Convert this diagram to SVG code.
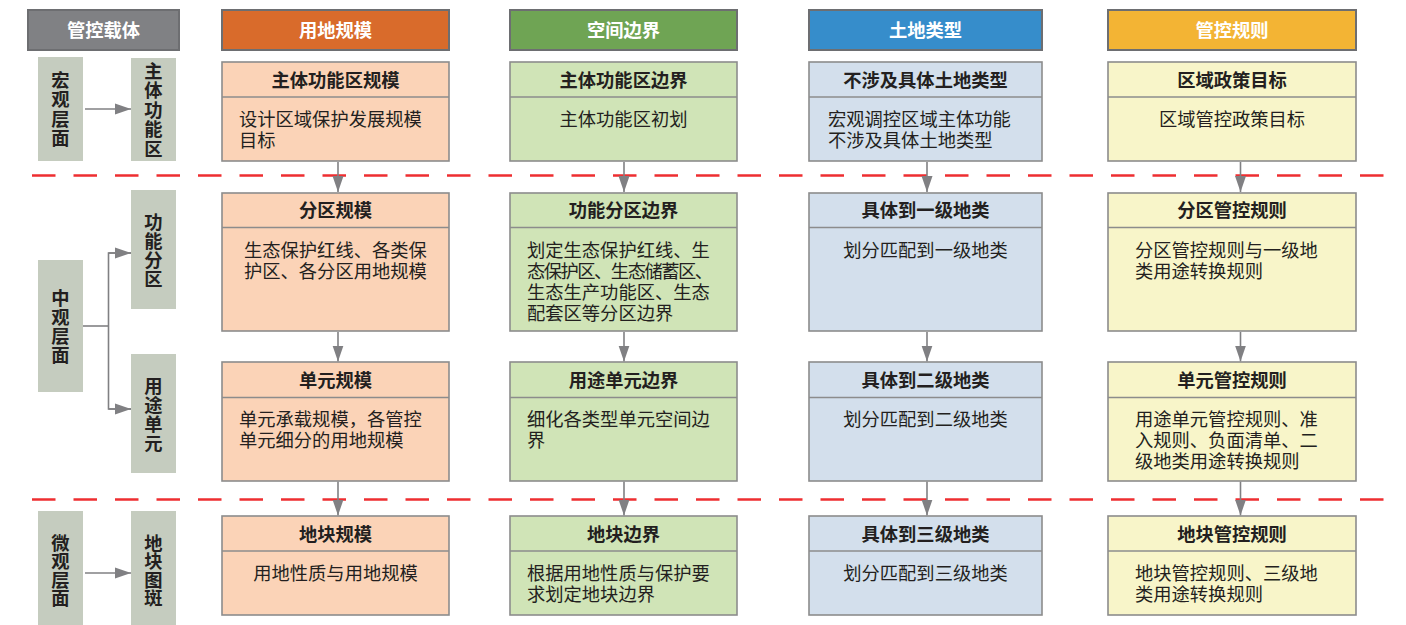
<svg xmlns="http://www.w3.org/2000/svg" width="1406" height="625" viewBox="0 0 1406 625">
<style>
text{font-family:"Noto Sans CJK SC","Noto Sans",sans-serif;fill:#231f20;font-size:18.3px}
.hd{stroke:#6d6e71;stroke-width:2}
.ht{fill:#ffffff;font-weight:bold;text-anchor:middle}
.bx{stroke:#8c8c8c;stroke-width:1.6}
.dv{stroke:#8c8c8c;stroke-width:1.6}
.tt{font-weight:bold;text-anchor:middle}
.mid{text-anchor:middle}
.lb{fill:#c5ccbf}
.lt{font-weight:bold;text-anchor:middle}
.c1{fill:#fbd3b7}.c2{fill:#d0e4b7}.c3{fill:#d3dfec}.c4{fill:#f8f5c9}
.cn{stroke:#808083;stroke-width:1.6;fill:none}
.rd{stroke:#ee2e31;stroke-width:2.6;stroke-dasharray:23.5 18}
</style>
<defs>
<marker id="ah" markerUnits="userSpaceOnUse" markerWidth="16" markerHeight="12" refX="16" refY="6" orient="auto">
<path d="M0,0.5 L16,6 L0,11.5 z" fill="#808083"/>
</marker>
</defs>

<g id="headers">
<g id="h0"><rect class="hd" x="28" y="10" width="151" height="40" fill="#808184"/><text class="ht" x="103.5" y="37">管控载体</text></g>
<g id="h1"><rect class="hd" x="222" y="10" width="227" height="40" fill="#d96b2b"/><text class="ht" x="335.5" y="37">用地规模</text></g>
<g id="h2"><rect class="hd" x="510" y="10" width="227" height="40" fill="#6fa454"/><text class="ht" x="623.5" y="37">空间边界</text></g>
<g id="h3"><rect class="hd" x="809" y="10" width="233" height="40" fill="#368dcb"/><text class="ht" x="925.5" y="37">土地类型</text></g>
<g id="h4"><rect class="hd" x="1108" y="10" width="248" height="40" fill="#f3b434"/><text class="ht" x="1232" y="37">管控规则</text></g>
</g>

<g id="dashes">
<line class="rd" x1="32" y1="175.5" x2="1386" y2="175.5"/>
<line class="rd" x1="32" y1="499.5" x2="1386" y2="499.5"/>
</g>

<g id="labels">
<g id="l-macro"><rect class="lb" x="38" y="57" width="45" height="104"/>
<text class="lt"><tspan x="60.5" y="86.5">宏</tspan><tspan x="60.5" y="106">观</tspan><tspan x="60.5" y="125.5">层</tspan><tspan x="60.5" y="145">面</tspan></text></g>
<g id="l-main"><rect class="lb" x="131" y="58" width="45" height="103"/>
<text class="lt"><tspan x="153.5" y="77.5">主</tspan><tspan x="153.5" y="97">体</tspan><tspan x="153.5" y="116.5">功</tspan><tspan x="153.5" y="136">能</tspan><tspan x="153.5" y="155.5">区</tspan></text></g>
<g id="l-meso"><rect class="lb" x="38" y="260" width="45" height="132"/>
<text class="lt"><tspan x="60.5" y="304.5">中</tspan><tspan x="60.5" y="323.5">观</tspan><tspan x="60.5" y="342.5">层</tspan><tspan x="60.5" y="361.5">面</tspan></text></g>
<g id="l-func"><rect class="lb" x="131" y="190" width="45" height="119"/>
<text class="lt"><tspan x="153.5" y="229">功</tspan><tspan x="153.5" y="248">能</tspan><tspan x="153.5" y="267">分</tspan><tspan x="153.5" y="286">区</tspan></text></g>
<g id="l-use"><rect class="lb" x="131" y="354" width="45" height="119"/>
<text class="lt"><tspan x="153.5" y="392.5">用</tspan><tspan x="153.5" y="411.5">途</tspan><tspan x="153.5" y="430.5">单</tspan><tspan x="153.5" y="449.5">元</tspan></text></g>
<g id="l-micro"><rect class="lb" x="38" y="511" width="45" height="114"/>
<text class="lt"><tspan x="60.5" y="549.5">微</tspan><tspan x="60.5" y="568">观</tspan><tspan x="60.5" y="586.5">层</tspan><tspan x="60.5" y="605">面</tspan></text></g>
<g id="l-plot"><rect class="lb" x="131" y="511" width="45" height="114"/>
<text class="lt"><tspan x="153.5" y="549.5">地</tspan><tspan x="153.5" y="568">块</tspan><tspan x="153.5" y="586.5">图</tspan><tspan x="153.5" y="605">斑</tspan></text></g>
</g>

<g id="connectors">
<line class="cn" x1="85" y1="109" x2="131" y2="109" marker-end="url(#ah)"/>
<polyline class="cn" points="83,326 108.5,326"/>
<polyline class="cn" points="131,253 108.5,253 108.5,409 131,409"/>
<line class="cn" x1="108.5" y1="253" x2="131" y2="253" marker-end="url(#ah)"/>
<line class="cn" x1="108.5" y1="409" x2="131" y2="409" marker-end="url(#ah)"/>
<line class="cn" x1="85" y1="573" x2="131" y2="573" marker-end="url(#ah)"/>

<line class="cn" x1="338" y1="162" x2="338" y2="192" marker-end="url(#ah)"/>
<line class="cn" x1="338" y1="332" x2="338" y2="361.5" marker-end="url(#ah)"/>
<line class="cn" x1="338" y1="481.5" x2="338" y2="515.5" marker-end="url(#ah)"/>
<line class="cn" x1="624" y1="162" x2="624" y2="192" marker-end="url(#ah)"/>
<line class="cn" x1="624" y1="332" x2="624" y2="361.5" marker-end="url(#ah)"/>
<line class="cn" x1="624" y1="481.5" x2="624" y2="515.5" marker-end="url(#ah)"/>
<line class="cn" x1="927" y1="162" x2="927" y2="192" marker-end="url(#ah)"/>
<line class="cn" x1="927" y1="332" x2="927" y2="361.5" marker-end="url(#ah)"/>
<line class="cn" x1="927" y1="481.5" x2="927" y2="515.5" marker-end="url(#ah)"/>
<line class="cn" x1="1240.5" y1="162" x2="1240.5" y2="192" marker-end="url(#ah)"/>
<line class="cn" x1="1240.5" y1="332" x2="1240.5" y2="361.5" marker-end="url(#ah)"/>
<line class="cn" x1="1240.5" y1="481.5" x2="1240.5" y2="515.5" marker-end="url(#ah)"/>
</g>

<!-- Column 1 -->
<g id="n11"><rect class="bx c1" x="222" y="62" width="227" height="99"/><line class="dv" x1="222" y1="97" x2="449" y2="97"/>
<text class="tt" x="335.5" y="86.5">主体功能区规模</text>
<text x="239" y="125.5">设计区域保护发展规模</text><text x="239" y="146.5">目标</text></g>
<g id="n12"><rect class="bx c1" x="222" y="193" width="227" height="138"/><line class="dv" x1="222" y1="227.5" x2="449" y2="227.5"/>
<text class="tt" x="335.5" y="216.5">分区规模</text>
<text x="244" y="256.5">生态保护红线、各类保</text><text x="244" y="277.5">护区、各分区用地规模</text></g>
<g id="n13"><rect class="bx c1" x="222" y="362" width="227" height="119"/><line class="dv" x1="222" y1="397.5" x2="449" y2="397.5"/>
<text class="tt" x="335.5" y="386.5">单元规模</text>
<text x="239" y="425.5">单元承载规模，各管控</text><text x="239" y="446.5">单元细分的用地规模</text></g>
<g id="n14"><rect class="bx c1" x="222" y="516" width="227" height="99"/><line class="dv" x1="222" y1="551" x2="449" y2="551"/>
<text class="tt" x="335.5" y="540.5">地块规模</text>
<text class="mid" x="335.5" y="579.5">用地性质与用地规模</text></g>

<!-- Column 2 -->
<g id="n21"><rect class="bx c2" x="510" y="62" width="227" height="99"/><line class="dv" x1="510" y1="97" x2="737" y2="97"/>
<text class="tt" x="623.5" y="86.5">主体功能区边界</text>
<text class="mid" x="623.5" y="125.5">主体功能区初划</text></g>
<g id="n22"><rect class="bx c2" x="510" y="193" width="227" height="138"/><line class="dv" x1="510" y1="227.5" x2="737" y2="227.5"/>
<text class="tt" x="623.5" y="216.5">功能分区边界</text>
<text x="527" y="256.5">划定生态保护红线、生</text><text x="527" y="277.5" textLength="186" lengthAdjust="spacing">态保护区、生态储蓄区、</text><text x="527" y="298.5">生态生产功能区、生态</text><text x="527" y="319.5">配套区等分区边界</text></g>
<g id="n23"><rect class="bx c2" x="510" y="362" width="227" height="119"/><line class="dv" x1="510" y1="397.5" x2="737" y2="397.5"/>
<text class="tt" x="623.5" y="386.5">用途单元边界</text>
<text x="527" y="425.5">细化各类型单元空间边</text><text x="527" y="446.5">界</text></g>
<g id="n24"><rect class="bx c2" x="510" y="516" width="227" height="99"/><line class="dv" x1="510" y1="551" x2="737" y2="551"/>
<text class="tt" x="623.5" y="540.5">地块边界</text>
<text x="527" y="579.5">根据用地性质与保护要</text><text x="527" y="600.5">求划定地块边界</text></g>

<!-- Column 3 -->
<g id="n31"><rect class="bx c3" x="809" y="62" width="233" height="99"/><line class="dv" x1="809" y1="97" x2="1042" y2="97"/>
<text class="tt" x="925.5" y="86.5">不涉及具体土地类型</text>
<text x="828" y="125.5">宏观调控区域主体功能</text><text x="828" y="146.5">不涉及具体土地类型</text></g>
<g id="n32"><rect class="bx c3" x="809" y="193" width="233" height="138"/><line class="dv" x1="809" y1="227.5" x2="1042" y2="227.5"/>
<text class="tt" x="925.5" y="216.5">具体到一级地类</text>
<text class="mid" x="925.5" y="256.5">划分匹配到一级地类</text></g>
<g id="n33"><rect class="bx c3" x="809" y="362" width="233" height="119"/><line class="dv" x1="809" y1="397.5" x2="1042" y2="397.5"/>
<text class="tt" x="925.5" y="386.5">具体到二级地类</text>
<text class="mid" x="925.5" y="425.5">划分匹配到二级地类</text></g>
<g id="n34"><rect class="bx c3" x="809" y="516" width="233" height="99"/><line class="dv" x1="809" y1="551" x2="1042" y2="551"/>
<text class="tt" x="925.5" y="540.5">具体到三级地类</text>
<text class="mid" x="925.5" y="579.5">划分匹配到三级地类</text></g>

<!-- Column 4 -->
<g id="n41"><rect class="bx c4" x="1108" y="62" width="248" height="99"/><line class="dv" x1="1108" y1="97" x2="1356" y2="97"/>
<text class="tt" x="1232" y="86.5">区域政策目标</text>
<text class="mid" x="1232" y="125.5">区域管控政策目标</text></g>
<g id="n42"><rect class="bx c4" x="1108" y="193" width="248" height="138"/><line class="dv" x1="1108" y1="227.5" x2="1356" y2="227.5"/>
<text class="tt" x="1232" y="216.5">分区管控规则</text>
<text x="1135" y="256.5">分区管控规则与一级地</text><text x="1135" y="277.5">类用途转换规则</text></g>
<g id="n43"><rect class="bx c4" x="1108" y="362" width="248" height="119"/><line class="dv" x1="1108" y1="397.5" x2="1356" y2="397.5"/>
<text class="tt" x="1232" y="386.5">单元管控规则</text>
<text x="1135" y="425.5">用途单元管控规则、准</text><text x="1135" y="446.5">入规则、负面清单、二</text><text x="1135" y="467.5">级地类用途转换规则</text></g>
<g id="n44"><rect class="bx c4" x="1108" y="516" width="248" height="99"/><line class="dv" x1="1108" y1="551" x2="1356" y2="551"/>
<text class="tt" x="1232" y="540.5">地块管控规则</text>
<text x="1135" y="579.5">地块管控规则、三级地</text><text x="1135" y="600.5">类用途转换规则</text></g>
</svg>
